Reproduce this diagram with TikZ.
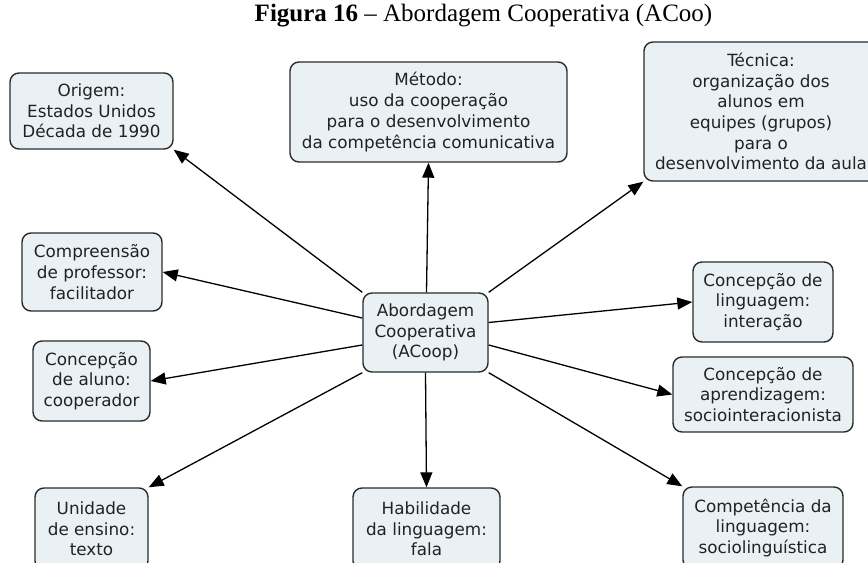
\documentclass[tikz,border=0pt]{standalone}
\usepackage{fontspec}
\setmainfont{DejaVu Sans}
\newfontfamily\titlefont{Liberation Serif}
\usetikzlibrary{arrows.meta}
\definecolor{boxfill}{HTML}{EAF1F5}
\definecolor{boxline}{HTML}{2B2B2B}
\definecolor{boxtext}{HTML}{222222}
\tikzset{
  concept/.style={draw=boxline, fill=boxfill, line width=1.4bp,
    rounded corners=9bp, align=center, inner sep=0pt, text=boxtext,
    font=\fontsize{16.8bp}{20.7bp}\selectfont},
  link/.style={line width=1.3bp, draw=black,
    -{Triangle[length=15bp,width=12bp]}}
}
\begin{document}
\begin{tikzpicture}[x=1bp,y=-1bp]
  \useasboundingbox (0,0) rectangle (868,563);
  \clip (0,0) rectangle (868,563);

  % caption
  \node[anchor=base, font=\titlefont\fontsize{25bp}{29bp}\selectfont] (title) at (483.5,22)
    {\textbf{Figura 16} – Abordagem Cooperativa (ACoo)};

  % central concept
  \node[concept, minimum width=125bp, minimum height=79bp] (c) at (425.5,332.5)
    {Abordagem\\Cooperativa\\(ACoop)};

  % surrounding concepts
  \node[concept, minimum width=163bp, minimum height=76bp] (origem) at (91.5,111)
    {Origem:\\Estados Unidos\\Década de 1990};
  \node[concept, minimum width=277bp, minimum height=100bp] (metodo) at (428.5,112)
    {Método:\\uso da cooperação\\para o desenvolvimento\\da competência comunicativa};
  \node[concept, minimum width=234bp, minimum height=139bp] (tecnica) at (761,111.5)
    {Técnica:\\organização dos\\alunos em\\equipes (grupos)\\para o\\desenvolvimento da aula};
  \node[concept, minimum width=140bp, minimum height=78bp] (prof) at (92,272)
    {Compreensão\\de professor:\\facilitador};
  \node[concept, minimum width=117bp, minimum height=80bp] (aluno) at (91.5,381)
    {Concepção\\de aluno:\\cooperador};
  \node[concept, minimum width=113bp, minimum height=82bp] (unidade) at (91.5,529)
    {Unidade\\de ensino:\\texto};
  \node[concept, minimum width=147bp, minimum height=82bp] (habil) at (426.5,529)
    {Habilidade\\da linguagem:\\fala};
  \node[concept, minimum width=160bp, minimum height=82bp] (compet) at (763,528)
    {Competência da\\linguagem:\\sociolinguística};
  \node[concept, minimum width=180bp, minimum height=75bp] (aprend) at (763,394.5)
    {Concepção de\\aprendizagem:\\sociointeracionista};
  \node[concept, minimum width=140bp, minimum height=80bp] (lingua) at (763,302)
    {Concepção de\\linguagem:\\interação};

  % connectors
  \draw[link] (c.north west) -- (origem.south east);
  \draw[link] ([xshift=1bp]c.north) -- (metodo.south);
  \draw[link] (c.north east) -- (tecnica.south west);
  \draw[link] ([yshift=14.5bp]c.west) -- (prof.east);
  \draw[link] ([yshift=10bp]c.east) -- (lingua.west);
  \draw[link] ([yshift=-12.5bp]c.west) -- (aluno.east);
  \draw[link] ([yshift=-12.5bp]c.east) -- (aprend.west);
  \draw[link] (c.south west) -- (unidade.north east);
  \draw[link] (c.south) -- (habil.north);
  \draw[link] (c.south east) -- (compet.north west);
\end{tikzpicture}
\end{document}
